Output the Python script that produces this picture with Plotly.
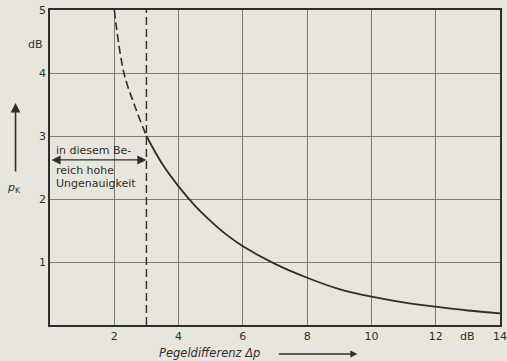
import plotly.graph_objects as go

# Data
dash_x = [2.0, 2.3, 2.65, 3.0]
dash_y = [5.0, 4.0, 3.46, 3.0]
solid_x = [3.0, 3.5, 4.0, 4.5, 5.0, 5.5, 6.0, 7.0, 8.0, 9.0, 10.0, 11.0, 12.0, 13.0, 14.0]
solid_y = [3.0, 2.55, 2.2, 1.9, 1.65, 1.43, 1.25, 0.97, 0.75, 0.57, 0.45, 0.36, 0.29, 0.23, 0.185]
x_ticks = [2, 4, 6, 8, 10, 12, 14]
y_ticks = [1, 2, 3, 4, 5]
limit_x = 3.0
note_lines = ["in diesem Be-", "reich hohe", "Ungenauigkeit"]

BG = "#e8e5dc"
INK = "#2e2e2e"
GRID = "#7a7a76"
FONT = "DejaVu Sans, sans-serif"

fig = go.Figure()
fig.add_trace(go.Scatter(x=dash_x, y=dash_y, mode="lines", line_shape="spline",
                         line=dict(color=INK, width=1.6, dash="8px,4px"),
                         hoverinfo="skip", showlegend=False))
fig.add_trace(go.Scatter(x=solid_x, y=solid_y, mode="lines", line_shape="spline",
                         line=dict(color=INK, width=1.8),
                         hoverinfo="skip", showlegend=False))

# dashed limit line at 3 dB
fig.add_shape(type="line", x0=limit_x, x1=limit_x, y0=0, y1=5, xref="x", yref="y",
              line=dict(color=INK, width=1.4, dash="8px,4px"))

# double arrow 0..3 dB
fig.add_annotation(x=limit_x, y=2.62, ax=0, ay=2.62, xref="x", yref="y", axref="x", ayref="y",
                   text="", showarrow=True, arrowhead=2, arrowside="end+start",
                   arrowsize=1.4, arrowwidth=1.3, arrowcolor=INK)
for txt, yy in zip(note_lines, [2.77, 2.45, 2.24]):
    fig.add_annotation(x=0.12, y=yy, xref="x", yref="y", text=txt, showarrow=False,
                       xanchor="left", yanchor="middle",
                       font=dict(family=FONT, size=11, color=INK))

# dB unit labels
fig.add_annotation(x=13, y=-0.038, xref="x", yref="paper", text="dB", showarrow=False,
                   yanchor="middle", font=dict(family=FONT, size=11, color=INK))
fig.add_annotation(x=-0.012, y=4.45, xref="paper", yref="y", text="dB", showarrow=False,
                   xanchor="right", yanchor="middle",
                   font=dict(family=FONT, size=11, color=INK))

# y-axis symbol and arrow
fig.add_annotation(x=-0.0766, y=0.705, xref="paper", yref="paper", ax=0, ay=70,
                   axref="pixel", ayref="pixel", text="", showarrow=True,
                   arrowhead=2, arrowsize=1.2, arrowwidth=1.6, arrowcolor=INK)
fig.add_annotation(x=-0.08, y=0.435, xref="paper", yref="paper",
                   text="<i>p</i><sub>K</sub>", showarrow=False,
                   xanchor="center", yanchor="middle",
                   font=dict(family=FONT, size=11, color=INK))

# x-axis title and arrow
fig.add_annotation(x=0.354, y=-0.089, xref="paper", yref="paper",
                   text="<i>Pegeldifferenz Δp</i>", showarrow=False,
                   xanchor="center", yanchor="middle",
                   font=dict(family=FONT, size=11.5, color=INK))
fig.add_annotation(x=0.683, y=-0.092, xref="paper", yref="paper", ax=-80, ay=0,
                   axref="pixel", ayref="pixel", text="", showarrow=True,
                   arrowhead=2, arrowsize=1.0, arrowwidth=1.4, arrowcolor=INK)

fig.update_layout(
    width=507, height=361,
    margin=dict(l=50, r=0, t=10, b=36),
    paper_bgcolor=BG, plot_bgcolor=BG,
    font=dict(family=FONT, size=11, color=INK),
    showlegend=False,
)
fig.update_xaxes(range=[0, 14], tickvals=x_ticks, ticktext=[str(v) for v in x_ticks],
                 showgrid=True, gridcolor=GRID, gridwidth=1,
                 showline=True, linecolor=INK, linewidth=1.6, mirror=True,
                 ticks="", zeroline=False, fixedrange=True, ticklabeloverflow="allow")
fig.update_yaxes(range=[0, 5], tickvals=y_ticks, ticktext=[str(v) for v in y_ticks],
                 showgrid=True, gridcolor=GRID, gridwidth=1,
                 showline=True, linecolor=INK, linewidth=1.6, mirror=True,
                 ticks="", zeroline=False, fixedrange=True)

fig.write_html("out.html", config={"displayModeBar": False},
               post_script="document.body.style.margin='0';"
                           "document.body.style.background='#e8e5dc';")
